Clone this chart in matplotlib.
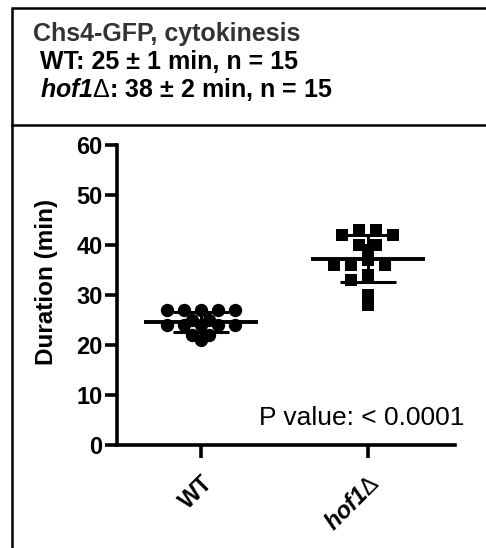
import matplotlib
matplotlib.use("Agg")
import matplotlib.pyplot as plt
from matplotlib.patches import Rectangle
from matplotlib.lines import Line2D
import numpy as np

plt.rcParams['font.family'] = ['Liberation Sans', 'DejaVu Sans']
plt.rcParams['mathtext.fontset'] = 'custom'
plt.rcParams['mathtext.rm'] = 'Liberation Sans'
plt.rcParams['mathtext.bf'] = 'Liberation Sans:bold'
plt.rcParams['mathtext.it'] = 'Liberation Sans:italic'
plt.rcParams['mathtext.bfit'] = 'Liberation Sans:bold:italic'

# durations (min)
wt = [27, 27, 27, 27, 27, 25, 25, 24, 24, 24, 24, 24, 22, 22, 21]
hof1 = [43, 43, 42, 42, 40, 40, 39, 37, 36, 36, 36, 34, 33, 30, 28]
groups = ['WT', r'$\mathbfit{hof1}\mathrm{\Delta}$']
yticks = [0, 10, 20, 30, 40, 50, 60]

W, H = 486, 548
fig = plt.figure(figsize=(W / 100, H / 100), dpi=100)
ax = fig.add_axes([117 / W, 1 - 445 / H, (455 - 117) / W, 300 / H])
ax.set_xlim(-0.5, 1.52)
ax.set_ylim(0, 60)

# pixel scales, used to spread the points of a column scatter
px_x = (455 - 117) / 2.02
px_y = 300 / 60
step = 8.5


def spread(vals):
    # greedy column scatter on a half-step lattice, rows centred
    placed = []
    out = []
    lat = np.arange(0, 12)
    for v in sorted(set(vals), reverse=True):
        n = vals.count(v)
        if n % 2 == 0:
            pref = [s * k for k in range(1, 12, 2) for s in (-1, 1)]
        else:
            pref = [0] + [s * k for k in range(2, 12, 2) for s in (-1, 1)]
        rest = [s * k for k in lat for s in (-1, 1) if s * k not in pref]
        cands = [c * step for c in pref + sorted(set(rest), key=abs)]
        for _ in range(n):
            for c in cands:
                ok = True
                for (ox, ov) in placed:
                    dx = abs(c - ox)
                    dy = abs(v - ov) * px_y
                    if (dy < 4 and dx < 16) or np.hypot(dx, dy) < 9.5:
                        ok = False
                        break
                if ok:
                    placed.append((c, v))
                    out.append((c / px_x, v))
                    break
    return np.array(out)


for i, (vals, mk, ms) in enumerate([(wt, 'o', 9.6), (hof1, 's', 8.8)]):
    pts = spread(vals)
    ax.scatter(i + pts[:, 0], pts[:, 1], marker=mk, s=ms ** 2, color='black',
               linewidths=0, zorder=3)
    m = np.mean(vals)
    sd = np.std(vals, ddof=1)
    ax.hlines(m, i - 0.34, i + 0.34, color='black', lw=2.8, zorder=4)
    ax.errorbar(i, m, yerr=sd, fmt='none', ecolor='black', elinewidth=2.2,
                capsize=20, capthick=2.2, zorder=4)

for s in ['top', 'right']:
    ax.spines[s].set_visible(False)
for s in ['left', 'bottom']:
    ax.spines[s].set_linewidth(2.6)
ax.set_yticks(yticks)
ax.set_xticks([0, 1])
ax.set_xticklabels(groups, rotation=45, ha='right', rotation_mode='anchor',
                   fontsize=18, fontweight='bold')
ax.tick_params(axis='both', width=2.6, length=9, labelsize=17, pad=1.5)
ax.tick_params(axis='x', pad=10)
for lab in ax.get_yticklabels():
    lab.set_fontweight('bold')
ax.set_ylabel('Duration (min)', fontsize=17.5, fontweight='bold')
ax.yaxis.set_label_coords(-0.175, 0.543)

ax.text(0.725, 0.067, 'P value: < 0.0001', transform=ax.transAxes, ha='center',
        va='baseline', fontsize=19)

# frame around the panel
fig.patches.append(Rectangle((12 / W, -0.1), 1.2, 1 - 8 / H + 0.1, transform=fig.transFigure,
                             fill=False, lw=1.8, ec='black'))
fig.lines.append(Line2D([12 / W, 1], [1 - 125 / H, 1 - 125 / H], transform=fig.transFigure,
                        lw=1.8, color='black'))

fig.text(33 / W, 1 - 41 / H, 'Chs4-GFP, cytokinesis', fontsize=18, fontweight='bold',
         color='#333333', va='baseline')
fig.text(40 / W, 1 - 69 / H, 'WT: 25 ± 1 min, n = 15', fontsize=18, fontweight='bold',
         va='baseline')
fig.text(40 / W, 1 - 97 / H, r'$\mathbfit{hof1}\mathrm{\Delta}$: 38 ± 2 min, n = 15',
         fontsize=18, fontweight='bold', va='baseline')

fig.savefig('out.png', dpi=100)
